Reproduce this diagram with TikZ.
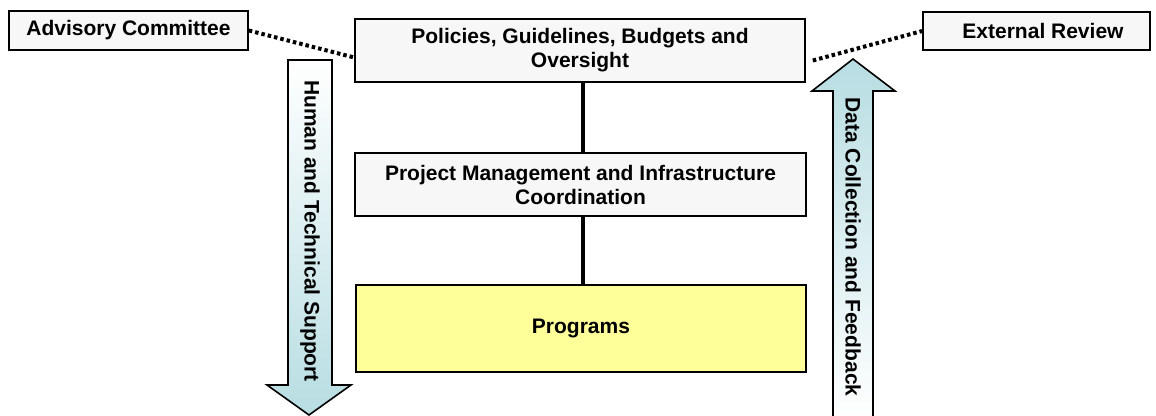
\documentclass[tikz,border=0pt]{standalone}
\usepackage{fontspec}
\setmainfont{Liberation Sans}
\usepackage{tikz}
\usetikzlibrary{calc}
\definecolor{boxgrey}{RGB}{247,247,247}
\definecolor{progyellow}{RGB}{255,255,153}
\definecolor{flowblue}{RGB}{183,221,226}

\begin{document}
\begin{tikzpicture}[x=1pt,y=-1pt,
  font=\fontsize{21}{24}\selectfont\bfseries,
  box/.style={draw=black,line width=1.6pt,fill=boxgrey,align=center,inner sep=0pt},
  link/.style={line width=3.2pt},
  dots/.style={line width=4pt,dash pattern=on 3.5pt off 3pt},
  flow/.style={draw=black,line width=1.6pt}]
\useasboundingbox (0,0) rectangle (1156,415);
% boxes
\node[box,minimum width=239pt,minimum height=39pt] (advisory) at (128.5,30.5) {Advisory Committee};
\node[box,minimum width=227pt,minimum height=38pt] (review) at (1036.5,31) {\hspace*{13pt}External Review};
\node[box,minimum width=450pt,minimum height=63pt] (policies) at (580,50.5) {Policies, Guidelines, Budgets and\\Oversight};
\node[box,minimum width=451pt,minimum height=63pt] (management) at (580.5,184.5) {Project Management and Infrastructure\\Coordination};
\node[box,fill=progyellow,minimum width=450pt,minimum height=87pt] (programs) at (581,328.5) {Programs};
% connectors
\draw[link] (policies.south -| 583,0) -- (management.north -| 583,0);
\draw[link] (management.south -| 583,0) -- (programs.north -| 583,0);
\draw[dots] (advisory.east) -- ($(policies.west)+(0,7)$);
\draw[dots] ($(policies.east)+(7,10)$) -- (review.west);
% big arrows
\shadedraw[flow,top color=white,bottom color=flowblue]
  (288,60) -- (332,60) -- (332,385) -- (351,385) -- (309,415) -- (267,385) -- (288,385) -- cycle;
\shadedraw[flow,top color=flowblue,bottom color=white]
  (833,420) -- (833,91) -- (812,91) -- (853,59) -- (895,91) -- (873,91) -- (873,420) -- cycle;
\node[rotate=-90] (support) at (310,231) {Human and Technical Support};
\node[rotate=-90] (feedback) at (853,247) {Data Collection and Feedback};
\end{tikzpicture}
\end{document}
